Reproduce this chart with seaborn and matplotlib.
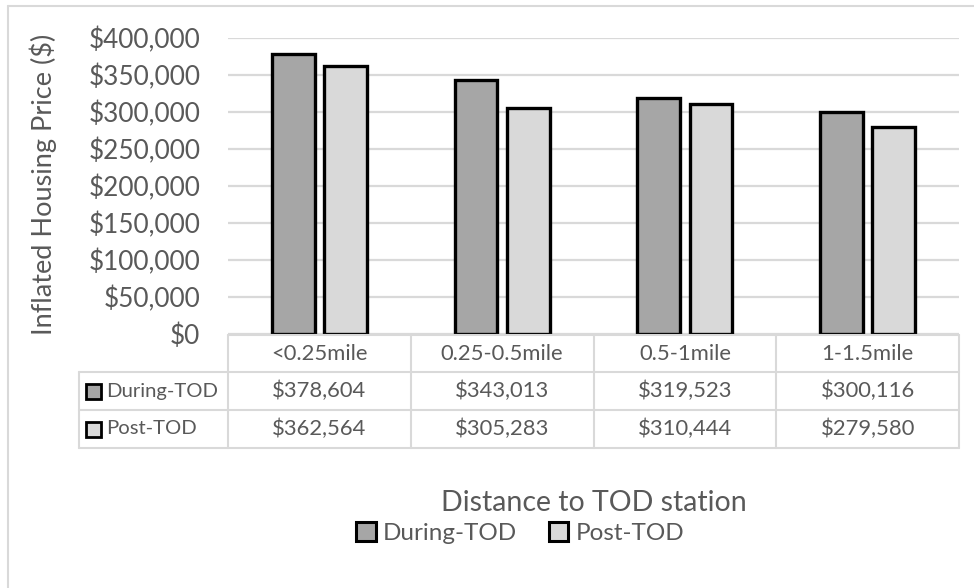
import matplotlib
matplotlib.use("Agg")
import matplotlib.pyplot as plt
import matplotlib.patches as mpatches
from matplotlib.lines import Line2D
from matplotlib.ticker import FuncFormatter
import seaborn as sns
import pandas as pd

categories = ["<0.25mile", "0.25-0.5mile", "0.5-1mile", "1-1.5mile"]
series_names = ["During-TOD", "Post-TOD"]
during_tod = [378604, 343013, 319523, 300116]
post_tod = [362564, 305283, 310444, 279580]
colors = {"During-TOD": "#a6a6a6", "Post-TOD": "#d9d9d9"}

df = pd.DataFrame({
    "Distance": categories * 2,
    "Series": [series_names[0]] * 4 + [series_names[1]] * 4,
    "Price": during_tod + post_tod,
})

sns.set_theme(style="white")
plt.rcParams["font.family"] = ["Lato", "DejaVu Sans"]
TXT = "#595959"
GRID = "#d9d9d9"

W, H = 974, 588
fig = plt.figure(figsize=(W / 100, H / 100), dpi=100)
fig.patch.set_facecolor("white")

def fx(px):
    return px / W

def fy(py):
    return 1 - py / H

L, R, T, B = 228, 959, 38, 334
ax = fig.add_axes([fx(L), fy(B), fx(R) - fx(L), fy(T) - fy(B)])

sns.barplot(data=df, x="Distance", y="Price", hue="Series", order=categories,
            hue_order=series_names, palette=colors, edgecolor="black",
            linewidth=2.4, width=0.57, gap=0.18, legend=False, ax=ax, zorder=3)

ax.set_ylim(0, 400000)
ax.set_xlim(-0.5, len(categories) - 0.5)
ax.set_yticks(range(0, 400001, 50000))
ax.yaxis.set_major_formatter(FuncFormatter(lambda v, p: f"${int(v):,}"))
ax.tick_params(axis="y", labelsize=18.8, colors=TXT, length=0, pad=20)
ax.set_xticks([])
ax.set_xlabel("")
ax.set_ylabel("")
for s in ax.spines.values():
    s.set_visible(False)
ax.grid(axis="y", color=GRID, linewidth=1.6, zorder=0)
ax.set_axisbelow(True)

# y label
fig.text(fx(43), fy(184), "Inflated Housing Price ($)", rotation=90,
         ha="center", va="center", fontsize=19.5, color=TXT)

# outer border (top and left visible)
fig.add_artist(Line2D([fx(8), 1.0], [fy(6), fy(6)], color=GRID, lw=1.5))
fig.add_artist(Line2D([fx(8), fx(8)], [fy(6), 0], color=GRID, lw=1.5))

# data table
col_w = (R - L) / len(categories)
col_edges = [L + i * col_w for i in range(len(categories) + 1)]
row_y = [335, 372, 410, 448]
TL = 79
FS = 15.8

def hline(x0, x1, y):
    fig.add_artist(Line2D([fx(x0), fx(x1)], [fy(y), fy(y)], color=GRID, lw=1.5))

def vline(x, y0, y1):
    fig.add_artist(Line2D([fx(x), fx(x)], [fy(y0), fy(y1)], color=GRID, lw=1.5))

hline(L, R, row_y[0])
for y in row_y[1:]:
    hline(TL, R, y)
for x in col_edges:
    vline(x, row_y[0], row_y[3])
vline(TL, row_y[1], row_y[3])

for i, c in enumerate(categories):
    cx = (col_edges[i] + col_edges[i + 1]) / 2
    fig.text(fx(cx), fy((row_y[0] + row_y[1]) / 2), c, ha="center", va="center",
             fontsize=FS, color=TXT)
    fig.text(fx(cx), fy((row_y[1] + row_y[2]) / 2), f"${during_tod[i]:,}",
             ha="center", va="center", fontsize=FS, color=TXT)
    fig.text(fx(cx), fy((row_y[2] + row_y[3]) / 2), f"${post_tod[i]:,}",
             ha="center", va="center", fontsize=FS, color=TXT)

for r, name in enumerate(series_names):
    yc = (row_y[r + 1] + row_y[r + 2]) / 2
    sz = 15
    fig.add_artist(mpatches.Rectangle((fx(86), fy(yc + sz / 2)), fx(sz), sz / H,
                                      facecolor=colors[name], edgecolor="black",
                                      lw=2.0))
    fig.text(fx(106), fy(yc), name, ha="left", va="center", fontsize=14.6, color=TXT)

# x axis title
fig.text(fx((L + R) / 2), fy(503), "Distance to TOD station", ha="center",
         va="center", fontsize=20.5, color=TXT)

# legend
handles = [mpatches.Patch(facecolor=colors[n], edgecolor="black", lw=2.2, label=n)
           for n in series_names]
leg = fig.legend(handles=handles, loc="center", bbox_to_anchor=(fx(520), fy(533)),
                 ncol=2, frameon=False, fontsize=17.5, handlelength=0.8,
                 handleheight=0.8, handletextpad=0.3, columnspacing=1.3)
for t in leg.get_texts():
    t.set_color(TXT)

fig.savefig("out.png", dpi=100, facecolor="white")
